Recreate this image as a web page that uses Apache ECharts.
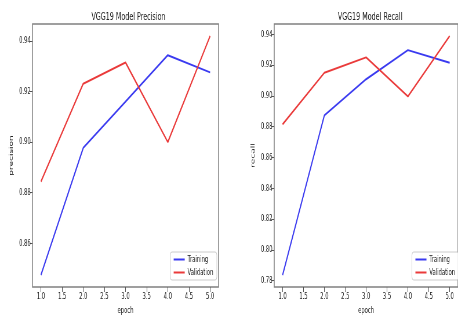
<!DOCTYPE html>
<html><head><meta charset="utf-8">
<script src="https://cdn.jsdelivr.net/npm/echarts@6/dist/echarts.min.js"></script>
<style>
html,body{margin:0;padding:0;background:#fff;overflow:hidden}
#wrap{width:458px;height:320px;overflow:hidden;position:relative}
#c{width:790px;height:320px;transform:scaleX(0.57975);transform-origin:0 0}
</style></head><body><div id="wrap"><div id="c"></div></div>
<script>
const epochs = [1, 2, 3, 4, 5];
const precisionTraining = [0.8474, 0.8977, 0.916, 0.9344, 0.9276];
const precisionValidation = [0.8844, 0.9231, 0.9315, 0.900, 0.942];
const recallTraining = [0.7836, 0.8873, 0.9108, 0.9297, 0.9215];
const recallValidation = [0.8815, 0.915, 0.925, 0.8996, 0.9389];
const xTicks = [1.0, 1.5, 2.0, 2.5, 3.0, 3.5, 4.0, 4.5, 5.0];
const precisionTicks = [0.86, 0.88, 0.90, 0.92, 0.94];
const recallTicks = [0.78, 0.80, 0.82, 0.84, 0.86, 0.88, 0.90, 0.92, 0.94];
const titles = ['VGG19 Model Precision', 'VGG19 Model Recall'];
const yNames = ['precision', 'recall'];
const seriesNames = ['Training', 'Validation'];

function pad(arrs) {
  const all = [].concat(...arrs);
  const lo = Math.min(...all), hi = Math.max(...all), m = (hi - lo) * 0.05;
  return [lo - m, hi + m];
}
const FONT = 'DejaVu Sans';
const TXT = '#222';
const BLUE = '#3a3af0';
const RED = '#ea3a3a';
const yExt = [pad([precisionTraining, precisionValidation]), pad([recallTraining, recallValidation])];
const yTicks = [precisionTicks, recallTicks];
const data = [[precisionTraining, precisionValidation], [recallTraining, recallValidation]];
const gridLefts = [56, 473];
const titleCenters = [216.5, 633.5];
const legendRights = [416, -1];

const option = {
  animation: false,
  backgroundColor: '#fff',
  title: titles.map((t, i) => ({
    text: t, left: titleCenters[i], top: 7, textAlign: 'center',
    textStyle: {fontFamily: FONT, fontSize: 11, fontWeight: 'normal', color: '#222'}
  })),
  grid: gridLefts.map(l => ({
    left: l, width: 321, top: 24, height: 266,
    show: true, borderColor: '#808080', borderWidth: 1.5, backgroundColor: 'transparent'
  })),
  xAxis: [0, 1].map(i => ({
    type: 'value', gridIndex: i, min: 0.8, max: 5.2,
    name: 'epoch', nameLocation: 'middle', nameGap: 19,
    nameTextStyle: {fontFamily: FONT, fontSize: 9, color: TXT},
    axisLine: {show: false}, splitLine: {show: false},
    axisTick: {show: true, inside: false, length: 5, lineStyle: {color: '#555'}, customValues: xTicks},
    axisLabel: {fontFamily: FONT, fontSize: 9, color: TXT, margin: 5, customValues: xTicks,
      formatter: v => v.toFixed(1)}
  })),
  yAxis: [0, 1].map(i => ({
    type: 'value', gridIndex: i, min: yExt[i][0], max: yExt[i][1],
    name: yNames[i], nameLocation: 'middle', nameGap: 32, nameRotate: 90,
    nameTextStyle: {fontFamily: FONT, fontSize: 9, color: TXT},
    axisLine: {show: false}, splitLine: {show: false},
    axisTick: {show: true, inside: false, length: 5, lineStyle: {color: '#555'}, customValues: yTicks[i]},
    axisLabel: {fontFamily: FONT, fontSize: 9, color: TXT, margin: 3, customValues: yTicks[i],
      formatter: v => v.toFixed(2)}
  })),
  legend: [0, 1].map(i => ({
    data: seriesNames, orient: 'vertical', right: legendRights[i], top: 252,
    icon: 'rect', itemWidth: 19, itemHeight: 2, itemGap: 4, padding: [3, 6],
    backgroundColor: 'rgba(255,255,255,0.85)', borderColor: '#ccc', borderWidth: 1, borderRadius: 3,
    textStyle: {fontFamily: FONT, fontSize: 9, color: TXT}
  })),
  series: []
};
[0, 1].forEach(i => {
  [0, 1].forEach(j => {
    option.series.push({
      type: 'line', name: seriesNames[j], xAxisIndex: i, yAxisIndex: i,
      data: epochs.map((e, k) => [e, data[i][j][k]]),
      symbol: 'none', color: j === 0 ? BLUE : RED,
      lineStyle: {width: 2, color: j === 0 ? BLUE : RED}
    });
  });
});
const chart = echarts.init(document.getElementById('c'), null, {renderer: 'canvas'});
chart.setOption(option);
</script></body></html>
